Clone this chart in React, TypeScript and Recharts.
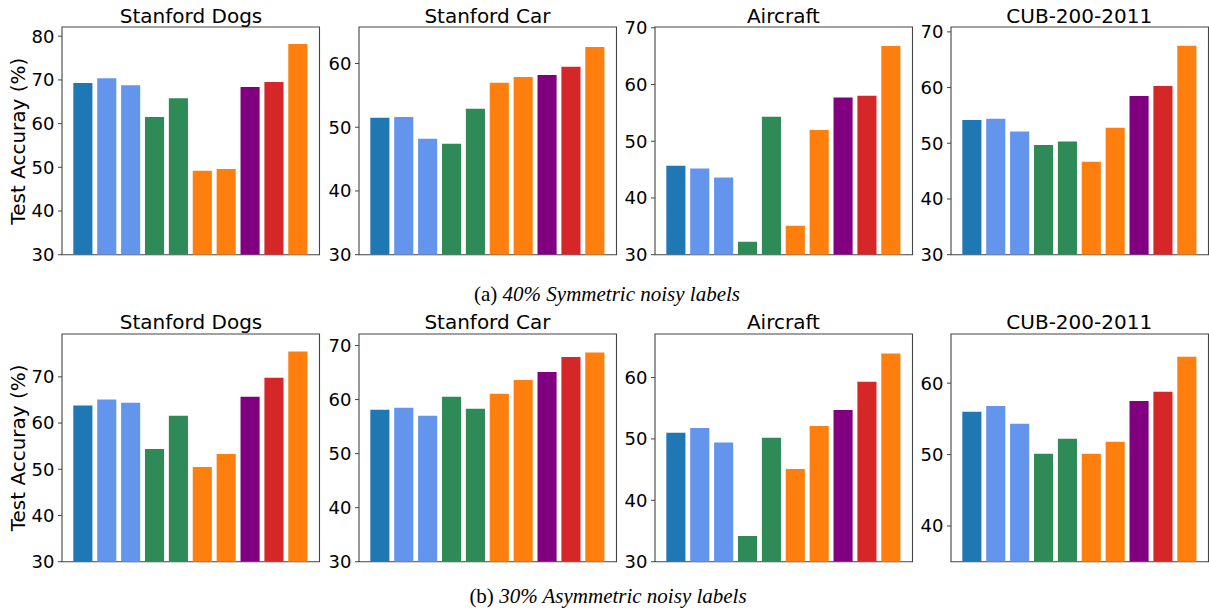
import React from 'react';
import { BarChart, Bar, XAxis, YAxis, Cell, ReferenceArea } from 'recharts';

// ---- data ----
const datasetNames = ['Stanford Dogs', 'Stanford Car', 'Aircraft', 'CUB-200-2011'];
const barIndex = [0, 1, 2, 3, 4, 5, 6, 7, 8, 9];
const barColors = [
  '#1f77b4', '#6495ed', '#6495ed', '#2e8b57', '#2e8b57',
  '#ff7f0e', '#ff7f0e', '#800080', '#d62728', '#ff7f0e',
];

const sym40Dogs = [69.3, 70.4, 68.8, 61.5, 65.8, 49.2, 49.6, 68.4, 69.5, 78.2];
const sym40Car = [51.5, 51.6, 48.2, 47.4, 52.9, 57.0, 57.9, 58.2, 59.5, 62.6];
const sym40Air = [45.7, 45.2, 43.6, 32.3, 54.3, 35.1, 52.0, 57.7, 58.0, 66.8];
const sym40Cub = [54.2, 54.4, 52.1, 49.7, 50.3, 46.7, 52.8, 58.5, 60.3, 67.5];

const asym30Dogs = [63.8, 65.1, 64.4, 54.4, 61.6, 50.5, 53.3, 65.7, 69.8, 75.5];
const asym30Car = [58.1, 58.5, 57.0, 60.5, 58.3, 61.1, 63.6, 65.1, 67.9, 68.7];
const asym30Air = [51.0, 51.8, 49.4, 34.2, 50.2, 45.1, 52.1, 54.7, 59.3, 63.9];
const asym30Cub = [56.0, 56.8, 54.3, 50.1, 52.2, 50.1, 51.8, 57.5, 58.8, 63.7];

const ticksTop = [
  [30, 40, 50, 60, 70, 80],
  [30, 40, 50, 60],
  [30, 40, 50, 60, 70],
  [30, 40, 50, 60, 70],
];
const ticksBottom = [
  [30, 40, 50, 60, 70],
  [30, 40, 50, 60, 70],
  [30, 40, 50, 60],
  [40, 50, 60],
];
const yMinTop = [30, 30, 30, 30];
const yMinBottom = [30, 30, 30, 35];

const yLabel = 'Test Accuray (%)';
const captionTop = ['(a) ', '40% Symmetric noisy labels'];
const captionBottom = ['(b) ', '30% Asymmetric noisy labels'];

// ---- layout ----
const frameLefts = [62.3, 358.7, 654.7, 950.5];
const frameW = 257.5;
const frameH = 227.7;
const rowTops = [27.3, 334];
const YW = 60;
const MT = 14;
const MB = 14;
const MR = 4;
const X_DOMAIN: [number, number] = [-0.89, 9.89];
const sans = 'DejaVu Sans, sans-serif';
const serif = 'Liberation Serif, Times New Roman, serif';
const spine = '#444';

type PanelProps = { values: number[]; ticks: number[]; yMin: number; left: number; top: number };

function Panel({ values, ticks, yMin, left, top }: PanelProps) {
  const data = barIndex.map((x, i) => ({ x, v: values[i] }));
  const yMax = Math.max(...values) * 1.05;
  const barSize = (frameW * 0.8) / (X_DOMAIN[1] - X_DOMAIN[0]);
  return (
    <div style={{ position: 'absolute', left: left - YW, top: top - MT }}>
      <BarChart
        width={YW + frameW + MR}
        height={MT + frameH + MB}
        data={data}
        margin={{ top: MT, right: MR, bottom: MB, left: 0 }}
        style={{ overflow: 'visible' }}
      >
        <XAxis type="number" dataKey="x" domain={X_DOMAIN} allowDataOverflow hide />
        <YAxis
          type="number"
          domain={[yMin, yMax]}
          allowDataOverflow
          ticks={ticks}
          interval={0}
          width={YW}
          axisLine={false}
          tickSize={4}
          tickMargin={3.5}
          tickLine={{ stroke: spine, strokeWidth: 1 }}
          tick={{ fontSize: 18, fill: '#000', fontFamily: sans }}
        />
        <Bar dataKey="v" barSize={barSize} isAnimationActive={false}>
          {data.map((d, i) => (
            <Cell key={i} fill={barColors[i]} />
          ))}
        </Bar>
        <ReferenceArea
          x1={X_DOMAIN[0]}
          x2={X_DOMAIN[1]}
          y1={yMin}
          y2={yMax}
          fill="none"
          fillOpacity={0}
          stroke={spine}
          strokeWidth={1.1}
          strokeOpacity={1}
          ifOverflow="visible"
        />
      </BarChart>
    </div>
  );
}

export default function App() {
  const rows = [
    { series: [sym40Dogs, sym40Car, sym40Air, sym40Cub], ticks: ticksTop, mins: yMinTop },
    { series: [asym30Dogs, asym30Car, asym30Air, asym30Cub], ticks: ticksBottom, mins: yMinBottom },
  ];
  return (
    <div style={{ position: 'absolute', left: 0, top: 0, width: 1209, height: 610, background: '#fff', overflow: 'hidden' }}>
      {rows.map((row, r) =>
        row.series.map((vals, c) => (
          <Panel
            key={`${r}-${c}`}
            values={vals}
            ticks={row.ticks[c]}
            yMin={row.mins[c]}
            left={frameLefts[c]}
            top={rowTops[r]}
          />
        ))
      )}
      <svg width={1209} height={610} style={{ position: 'absolute', left: 0, top: 0, pointerEvents: 'none' }}>
        {rowTops.map((t, r) =>
          datasetNames.map((name, c) => (
            <text
              key={`t-${r}-${c}`}
              x={frameLefts[c] + frameW / 2}
              y={t - 4.7}
              textAnchor="middle"
              fontFamily={sans}
              fontSize={20}
              fill="#000"
            >
              {name}
            </text>
          ))
        )}
        {rowTops.map((t, r) => (
          <text
            key={`yl-${r}`}
            transform={`translate(25.4, ${t + frameH / 2}) rotate(-90)`}
            textAnchor="middle"
            fontFamily={sans}
            fontSize={20}
            fill="#000"
          >
            {yLabel}
          </text>
        ))}
        <text x={607} y={301} textAnchor="middle" fontFamily={serif} fontSize={21} fill="#000">
          <tspan>{captionTop[0]}</tspan>
          <tspan fontStyle="italic">{captionTop[1]}</tspan>
        </text>
        <text x={608} y={603} textAnchor="middle" fontFamily={serif} fontSize={21} fill="#000">
          <tspan>{captionBottom[0]}</tspan>
          <tspan fontStyle="italic">{captionBottom[1]}</tspan>
        </text>
      </svg>
    </div>
  );
}
